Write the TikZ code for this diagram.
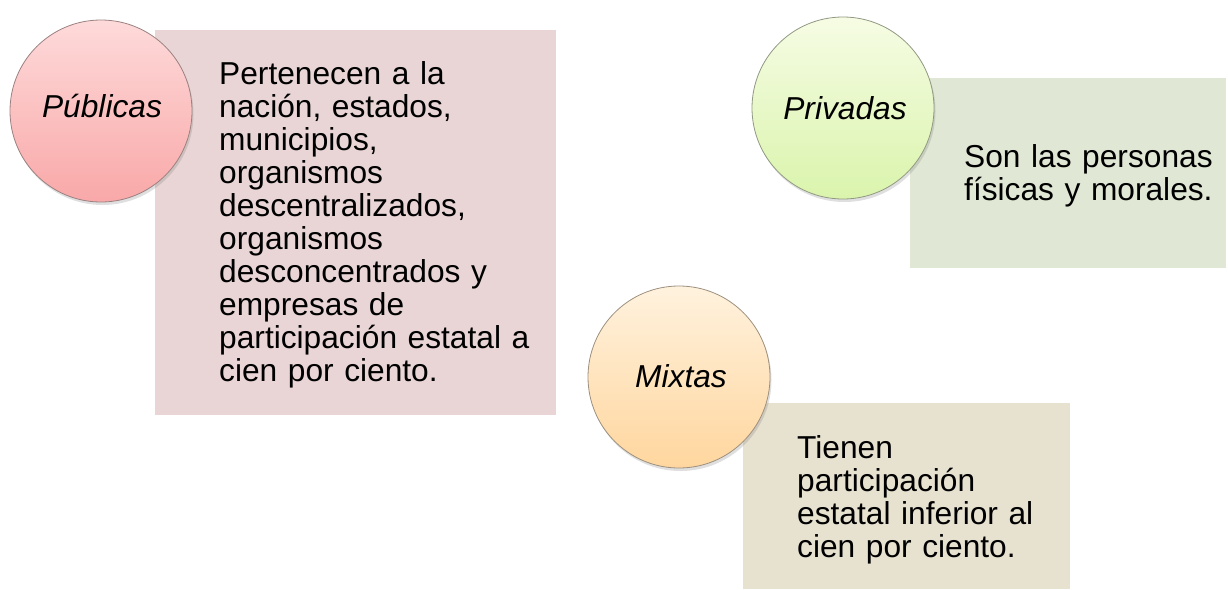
\documentclass[tikz,border=0pt]{standalone}
\usepackage{fontspec}
\setmainfont{Liberation Sans}
\usetikzlibrary{shadows}
\definecolor{pubfill}{RGB}{233,213,213}
\definecolor{privfill}{RGB}{224,231,212}
\definecolor{mixfill}{RGB}{231,225,208}
\definecolor{pubtop}{RGB}{254,218,218}
\definecolor{pubbot}{RGB}{249,168,168}
\definecolor{privtop}{RGB}{246,252,228}
\definecolor{privbot}{RGB}{218,244,172}
\definecolor{mixtop}{RGB}{255,242,222}
\definecolor{mixbot}{RGB}{255,214,158}
\tikzset{panel/.style={rectangle,draw=none,inner sep=0pt},
  circ/.style={circle,draw=black!45,line width=.8pt,minimum size=182pt,inner sep=0pt,
    drop shadow={opacity=.25,shadow xshift=1.5pt,shadow yshift=-3pt}},
  lbl/.style={inner sep=0pt,font=\fontsize{31.7}{33}\selectfont\itshape},
  body/.style={inner sep=0pt,align=left,anchor=base west,font=\fontsize{31.7}{33}\selectfont}}

\begin{document}
\begin{tikzpicture}[x=1pt,y=-1pt]
    \useasboundingbox (0,0) rectangle (1228,589);
    % boxes
    \node[panel,fill=pubfill,minimum width=401pt,minimum height=385pt] (pubbox) at (355.5,222.5) {};
    \node[panel,fill=privfill,minimum width=316pt,minimum height=190pt] (privbox) at (1068,173) {};
    \node[panel,fill=mixfill,minimum width=327pt,minimum height=186pt] (mixbox) at (906.5,496) {};
    % circles
    \node[circ,draw=pubbot!45!black!70,top color=pubtop,bottom color=pubbot] (pubcirc) at (101,111) {};
    \node[circ,draw=privbot!45!black!70,top color=privtop,bottom color=privbot] (privcirc) at (843,108) {};
    \node[circ,draw=mixbot!45!black!70,top color=mixtop,bottom color=mixbot] (mixcirc) at (679,377) {};
    \node[lbl,anchor=base] (publbl) at (102,117) {Públicas};
    \node[lbl,anchor=base] (privlbl) at (845,119) {Privadas};
    \node[lbl,anchor=base] (mixlbl) at (681,387) {Mixtas};
    % texts
    \node[body,text width=330pt] (pubtxt) at (219,84) {Pertenecen a la\\ nación, estados,\\ municipios,\\ organismos\\ descentralizados,\\ organismos\\ desconcentrados y\\ empresas de\\ participación estatal a\\ cien por ciento.};
    \node[body,text width=260pt] (privtxt) at (964,167) {Son las personas\\ físicas y morales.};
    \node[body,text width=270pt] (mixtxt) at (797,458) {Tienen\\ participación\\ estatal inferior al\\ cien por ciento.};
\end{tikzpicture}
\end{document}
